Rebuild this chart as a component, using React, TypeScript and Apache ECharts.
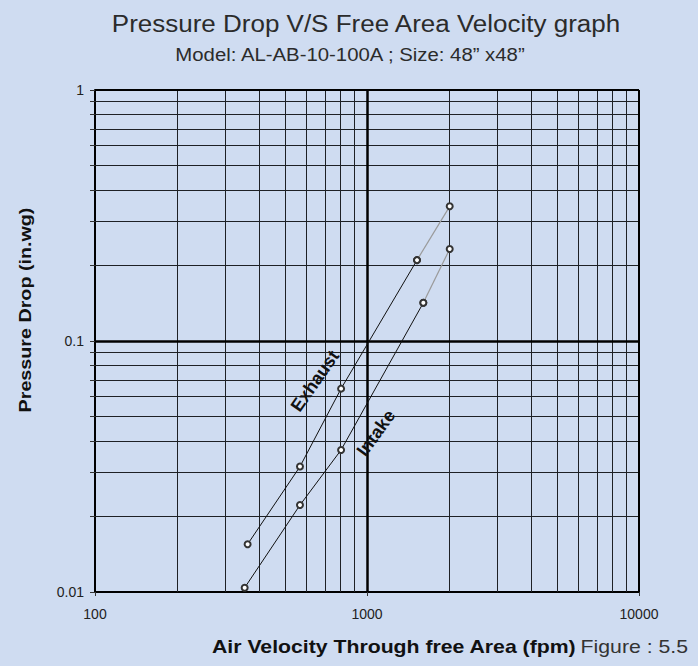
import React, { useEffect, useRef } from "react";
import * as echarts from "echarts";

// Data (Air velocity in fpm, pressure drop in in.wg)
const exhaustVelocity = [364, 567, 803, 1527, 2014];
const exhaustPressure = [0.0155, 0.0316, 0.0646, 0.21, 0.344];
const intakeVelocity = [355, 567, 803, 1611, 2014];
const intakePressure = [0.0104, 0.0222, 0.0368, 0.142, 0.2325];

// Axis ranges / grid values
const xRange = [100, 10000];
const yRange = [0.01, 1];
const xMinorGrid = [200, 300, 400, 500, 600, 700, 800, 900, 2000, 3000, 4000, 5000, 6000, 7000, 8000, 9000];
const yMinorGrid = [0.02, 0.03, 0.04, 0.05, 0.06, 0.07, 0.08, 0.09, 0.2, 0.3, 0.4, 0.5, 0.6, 0.7, 0.8, 0.9];
const xMajorGrid = [1000];
const yMajorGrid = [0.1];
const yTickValues = [0.01, ...yMinorGrid.slice(0, 8), 0.1, ...yMinorGrid.slice(8), 1];

const TITLE = "Pressure Drop V/S Free Area Velocity graph";
const SUBTITLE = "Model: AL-AB-10-100A ; Size: 48\u201d x48\u201d";
const Y_NAME = "Pressure Drop (in.wg)";
const X_NAME = "Air Velocity Through free Area (fpm)";
const FIG = "Figure : 5.5";

const FONT = "'Liberation Sans', Arial, Helvetica, sans-serif";

export default function App() {
  const ref = useRef<HTMLDivElement>(null);
  useEffect(() => {
    if (!ref.current) return;
    const chart = echarts.init(ref.current, undefined, { renderer: "svg" });
    const exhaust = exhaustVelocity.map((v, i) => [v, exhaustPressure[i]]);
    const intake = intakeVelocity.map((v, i) => [v, intakePressure[i]]);
    const minorStyle = { color: "#1e2126", width: 1, type: "solid" as const };
    const majorStyle = { color: "#000", width: 2.5, type: "solid" as const };
    const frameStyle = { color: "#000", width: 2, type: "solid" as const };
    const gridLines = [
      ...xMinorGrid.map((v) => ({ xAxis: v, lineStyle: minorStyle })),
      ...yMinorGrid.map((v) => ({ yAxis: v, lineStyle: minorStyle })),
      ...xMajorGrid.map((v) => ({ xAxis: v, lineStyle: majorStyle })),
      ...yMajorGrid.map((v) => ({ yAxis: v, lineStyle: majorStyle })),
      { xAxis: xRange[1], lineStyle: frameStyle },
      { yAxis: yRange[1], lineStyle: frameStyle },
    ];
    const pointStyle = {
      symbol: "emptyCircle",
      symbolSize: 6,
      z: 5,
    };
    chart.setOption({
      animation: false,
      backgroundColor: "#cfdcf1",
      textStyle: { fontFamily: FONT },
      grid: { left: 95, right: 59, top: 90, bottom: 74 },
      xAxis: {
        type: "log",
        logBase: 10,
        min: xRange[0],
        max: xRange[1],
        axisLine: { show: true, onZero: false, lineStyle: { color: "#000", width: 2 } },
        axisTick: { show: true, length: 4, lineStyle: { color: "#333" } },
        axisLabel: {
          fontSize: 14,
          color: "#222",
          margin: 15,
          fontFamily: FONT,
          formatter: (v: number) => String(Math.round(v)),
        },
        splitLine: { show: false },
      },
      yAxis: {
        type: "log",
        logBase: 10,
        min: yRange[0],
        max: yRange[1],
        axisLine: { show: true, onZero: false, lineStyle: { color: "#000", width: 2 } },
        axisTick: { show: true, length: 5, customValues: yTickValues, lineStyle: { color: "#333" } },
        axisLabel: { fontSize: 14, color: "#222", margin: 11, fontFamily: FONT },
        splitLine: { show: false },
      },
      series: [
        {
          name: "grid",
          type: "line",
          data: [],
          silent: true,
          z: 1,
          markLine: {
            silent: true,
            symbol: ["none", "none"],
            label: { show: false },
            emphasis: { disabled: true },
            data: gridLines,
          },
        },
        {
          name: "Exhaust",
          type: "line",
          data: exhaust.slice(0, 4),
          ...pointStyle,
          lineStyle: { color: "#111", width: 1 },
          itemStyle: { color: "#333", borderWidth: 1 },
        },
        {
          name: "Exhaust (ext.)",
          type: "line",
          data: exhaust.slice(3),
          ...pointStyle,
          lineStyle: { color: "#9a9a9a", width: 1.2 },
          itemStyle: { color: "#333", borderWidth: 1 },
        },
        {
          name: "Intake",
          type: "line",
          data: intake.slice(0, 4),
          ...pointStyle,
          lineStyle: { color: "#111", width: 1 },
          itemStyle: { color: "#333", borderWidth: 1 },
        },
        {
          name: "Intake (ext.)",
          type: "line",
          data: intake.slice(3),
          ...pointStyle,
          lineStyle: { color: "#9a9a9a", width: 1.2 },
          itemStyle: { color: "#333", borderWidth: 1 },
        },
      ],
      graphic: [
        {
          type: "text",
          x: 366,
          y: 24,
          scaleX: 1.13,
          style: { text: TITLE, fontSize: 23, fill: "#2b2b2b", align: "center", verticalAlign: "middle", fontFamily: FONT },
        },
        {
          type: "text",
          x: 350,
          y: 54,
          scaleX: 1.1,
          style: { text: SUBTITLE, fontSize: 18.5, fill: "#2b2b2b", align: "center", verticalAlign: "middle", fontFamily: FONT },
        },
        {
          type: "text",
          x: 25,
          y: 310,
          rotation: Math.PI / 2,
          scaleX: 1.16,
          style: { text: Y_NAME, fontSize: 17, fontWeight: "bold", fill: "#111", align: "center", verticalAlign: "middle", fontFamily: FONT },
        },
        {
          type: "text",
          x: 212,
          y: 647,
          scaleX: 1.18,
          style: {
            text: `{b|${X_NAME}} {n|${FIG}}`,
            align: "left",
            verticalAlign: "middle",
            fontFamily: FONT,
            rich: {
              b: { fontSize: 18, fontWeight: "bold", fill: "#111", fontFamily: FONT },
              n: { fontSize: 18, fill: "#333", fontFamily: FONT },
            },
          },
        },
        {
          type: "text",
          x: 315,
          y: 381,
          rotation: (55 * Math.PI) / 180,
          style: { text: "Exhaust", fontSize: 18, fontWeight: "bold", fill: "#111", align: "center", verticalAlign: "middle", fontFamily: FONT },
          z: 10,
        },
        {
          type: "text",
          x: 376,
          y: 433,
          rotation: (54 * Math.PI) / 180,
          style: { text: "Intake", fontSize: 18, fontWeight: "bold", fill: "#111", align: "center", verticalAlign: "middle", fontFamily: FONT },
          z: 10,
        },
      ],
    });
    return () => chart.dispose();
  }, []);
  return (
    <div
      ref={ref}
      style={{ position: "absolute", left: 0, top: 0, width: 698, height: 666, background: "#cfdcf1" }}
    />
  );
}
